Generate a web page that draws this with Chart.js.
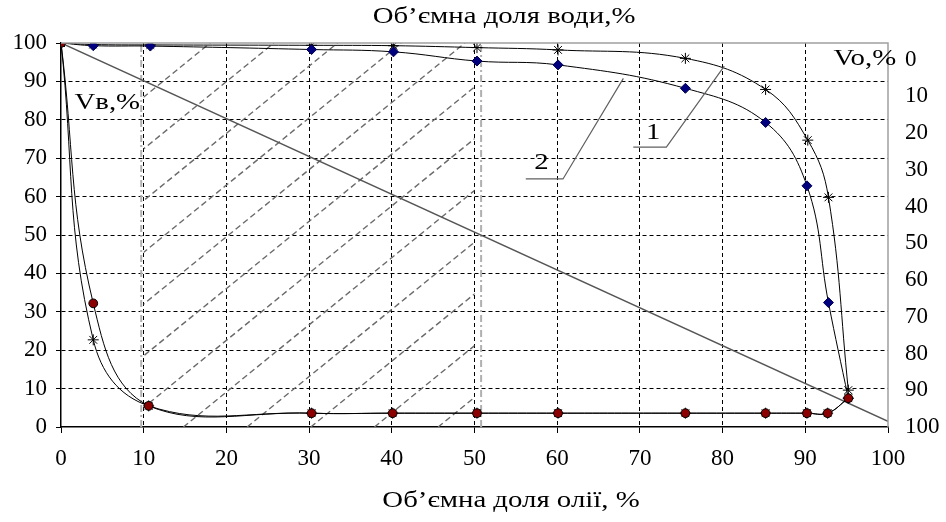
<!DOCTYPE html>
<html><head><meta charset="utf-8">
<script src="https://cdn.jsdelivr.net/npm/chart.js@4.4.1/dist/chart.umd.min.js"></script>
<style>html,body{margin:0;padding:0;background:#fff}#wrap{width:946px;height:522px}</style>
</head><body><div id="wrap"><canvas id="c" width="946" height="522"></canvas></div>
<script>
// ---- data ----
const xTicks = [0,10,20,30,40,50,60,70,80,90,100];
const yTicks = [0,10,20,30,40,50,60,70,80,90,100];
const voTicks = [0,10,20,30,40,50,60,70,80,90,100];

// curve 1 (stars) upper branch
const starUpperX = [0,3.9,10.8,30.3,40.2,50.3,60.1,75.5,85.2,90.3,92.8,95.2];
const starUpperY = [100,99.6,99.5,99.4,99.3,98.8,98.2,96.0,87.9,74.7,59.8,9.6];
// curve 1 (stars) lower branch
const starLowerX = [0,3.9,10.6,30.3,40.1,50.3,60.1,75.5,85.2,90.2,92.7,95.2];
const starLowerY = [100,22.7,5.5,3.6,3.6,3.6,3.6,3.6,3.6,3.6,3.6,7.5];
// curve 2 (diamonds) upper branch
const diamondX = [0,3.9,10.8,30.3,40.2,50.3,60.1,75.5,85.2,90.2,92.8,95.2];
const diamondY = [100,99.3,99.2,98.3,97.7,95.3,94.3,88.2,79.3,62.8,32.4,7.5];
// curve 2 (circles) lower branch
const circleX = [0,3.9,10.6,30.3,40.1,50.3,60.1,75.5,85.2,90.2,92.7,95.2];
const circleY = [100,32.2,5.5,3.6,3.6,3.6,3.6,3.6,3.6,3.6,3.6,7.5];
// diagonal
const diagonalX = [0,100];
const diagonalY = [100,1.5];

// hatched zone (x-range) and hatch lines (x where each crosses y=0)
const zoneX = [10,50];
const zoneEdgesX = [9.7,50.8];
const hatchSlope = 1.75;
const hatchIntercepts = [-46.8,-39.1,-31.4,-23.7,-16.0,-8.3,-0.6,7.1,14.8,22.5,30.2,37.9,45.6];

// annotations
const leader1 = [[69.2,72.9],[73.2,72.9],[80.2,94.0]];
const leader2 = [[56.2,64.6],[60.7,64.6],[68.0,90.8]];
const label1 = {text:'1', x:71.6, y:76.6};
const label2 = {text:'2', x:58.1, y:68.7};
const labelVb = {text:'Vв,%', x:5.6, y:84.4};
const labelVo = {text:'Vo,%', x:97.2, y:95.8};
const topTitle = 'Об’ємна доля води,%';
const bottomTitle = 'Об’ємна доля олії, %';

// ---- chart ----
const FONT = 'Liberation Serif';
const pts = (xs, ys) => xs.map((x, i) => ({x, y: ys[i]}));
const lineBase = {showLine:true, tension:0.4, borderColor:'#000', borderWidth:1, fill:false};

function wideText(ctx, text, cx, cy, size, sx){
  ctx.save();
  ctx.translate(cx, cy);
  ctx.scale(sx, 1);
  ctx.font = size + 'px "' + FONT + '"';
  ctx.textAlign = 'center';
  ctx.textBaseline = 'middle';
  ctx.fillStyle = '#000';
  ctx.fillText(text, 0, 0);
  ctx.restore();
}

const deco = {
  id:'deco',
  beforeDatasetsDraw(chart){
    const {ctx, scales:{x, y}} = chart;
    const X = v => x.getPixelForValue(v), Y = v => y.getPixelForValue(v);
    ctx.save();
    ctx.beginPath();
    ctx.rect(X(zoneX[0]), Y(100), X(zoneX[1]) - X(zoneX[0]), Y(0) - Y(100));
    ctx.clip();
    ctx.strokeStyle = '#6a6a6a';
    ctx.lineWidth = 1.4;
    ctx.setLineDash([6,3.5]);
    hatchIntercepts.forEach(c => {
      ctx.beginPath();
      ctx.moveTo(X(c), Y(0));
      ctx.lineTo(X(c + 100 / hatchSlope), Y(100));
      ctx.stroke();
    });
    ctx.restore();
    ctx.save();
    ctx.strokeStyle = '#b0b0b0';
    ctx.lineWidth = 2;
    ctx.setLineDash([7,3,2,3]);
    zoneEdgesX.forEach(v => {
      ctx.beginPath();
      ctx.moveTo(X(v), Y(0));
      ctx.lineTo(X(v), Y(100));
      ctx.stroke();
    });
    ctx.restore();
  },
  afterDatasetsDraw(chart){
    const {ctx, chartArea:a, scales:{x, y}} = chart;
    const X = v => x.getPixelForValue(v), Y = v => y.getPixelForValue(v);
    ctx.save();
    ctx.strokeStyle = '#a0a0a0';
    ctx.lineWidth = 1.5;
    ctx.beginPath();
    ctx.moveTo(a.left, a.top); ctx.lineTo(a.right, a.top); ctx.lineTo(a.right, a.bottom);
    ctx.stroke();
    ctx.strokeStyle = '#606060';
    ctx.lineWidth = 1.2;
    [leader1, leader2].forEach(L => {
      ctx.beginPath();
      L.forEach((p, i) => i ? ctx.lineTo(X(p[0]), Y(p[1])) : ctx.moveTo(X(p[0]), Y(p[1])));
      ctx.stroke();
    });
    ctx.restore();
    [label1, label2, labelVb, labelVo].forEach(l => wideText(ctx, l.text, X(l.x), Y(l.y), 24, 1.2));
  },
  afterDraw(chart){
    const {ctx} = chart;
    wideText(ctx, topTitle, 504, 17, 24, 1.2);
    wideText(ctx, bottomTitle, 511, 501, 24, 1.2);
  }
};

const gridColor = ctx => (ctx.tick && (ctx.tick.value === 0 || ctx.tick.value === 100)) ? 'rgba(0,0,0,0)' : '#000';
const tickFont = {family: FONT, size: 23};

new Chart(document.getElementById('c'), {
  type: 'scatter',
  data: {
    datasets: [
      {...lineBase, data: pts(circleX, circleY), pointStyle:'circle', pointRadius:4.4,
        pointBackgroundColor:'#8b0000', pointBorderColor:'#000', pointBorderWidth:1},
      {...lineBase, data: pts(diamondX, diamondY), pointStyle:'rectRot', pointRadius:5,
        pointBackgroundColor:'#00007f', pointBorderColor:'#00004f', pointBorderWidth:1},
      {...lineBase, data: pts(starLowerX, starLowerY), pointStyle:'star', pointRadius:5.5,
        pointBorderColor:'#000', pointBackgroundColor:'#000', pointBorderWidth:1},
      {...lineBase, data: pts(starUpperX, starUpperY), pointStyle:'star', pointRadius:5.5,
        pointBorderColor:'#000', pointBackgroundColor:'#000', pointBorderWidth:1},
      {showLine:true, tension:0, data: pts(diagonalX, diagonalY), borderColor:'#555', borderWidth:1.5, pointRadius:0}
    ]
  },
  options: {
    responsive:false, animation:false, devicePixelRatio:1,
    layout:{padding:{top:43, left:0, right:0, bottom:0}},
    plugins:{legend:{display:false}, tooltip:{enabled:false}},
    scales:{
      x:{type:'linear', min:0, max:100,
        afterBuildTicks: s => { s.ticks = xTicks.map(v => ({value:v})); },
        afterFit: s => { s.height = 95; },
        grid:{color:gridColor, lineWidth:1, tickLength:6, tickColor:'#000', tickBorderDash:[], tickWidth:1},
        border:{display:true, color:'#000', width:1.5, dash:[4,3]},
        ticks:{font:tickFont, color:'#000', padding:12, maxRotation:0}
      },
      y:{type:'linear', min:0, max:100,
        afterBuildTicks: s => { s.ticks = yTicks.map(v => ({value:v})); },
        afterFit: s => { s.width = 61; },
        grid:{color:gridColor, lineWidth:1, tickLength:5, tickColor:'#000', tickBorderDash:[], tickWidth:1},
        border:{display:true, color:'#000', width:1.5, dash:[4,3]},
        ticks:{font:tickFont, color:'#000', padding:9}
      },
      y2:{type:'linear', position:'right', reverse:true, min:-4.5, max:100,
        afterBuildTicks: s => { s.ticks = voTicks.map(v => ({value:v})); },
        afterFit: s => { s.width = 58; },
        grid:{display:false, drawTicks:false},
        border:{display:false},
        ticks:{font:tickFont, color:'#000', padding:17}
      }
    }
  },
  plugins:[deco]
});
</script></body></html>
